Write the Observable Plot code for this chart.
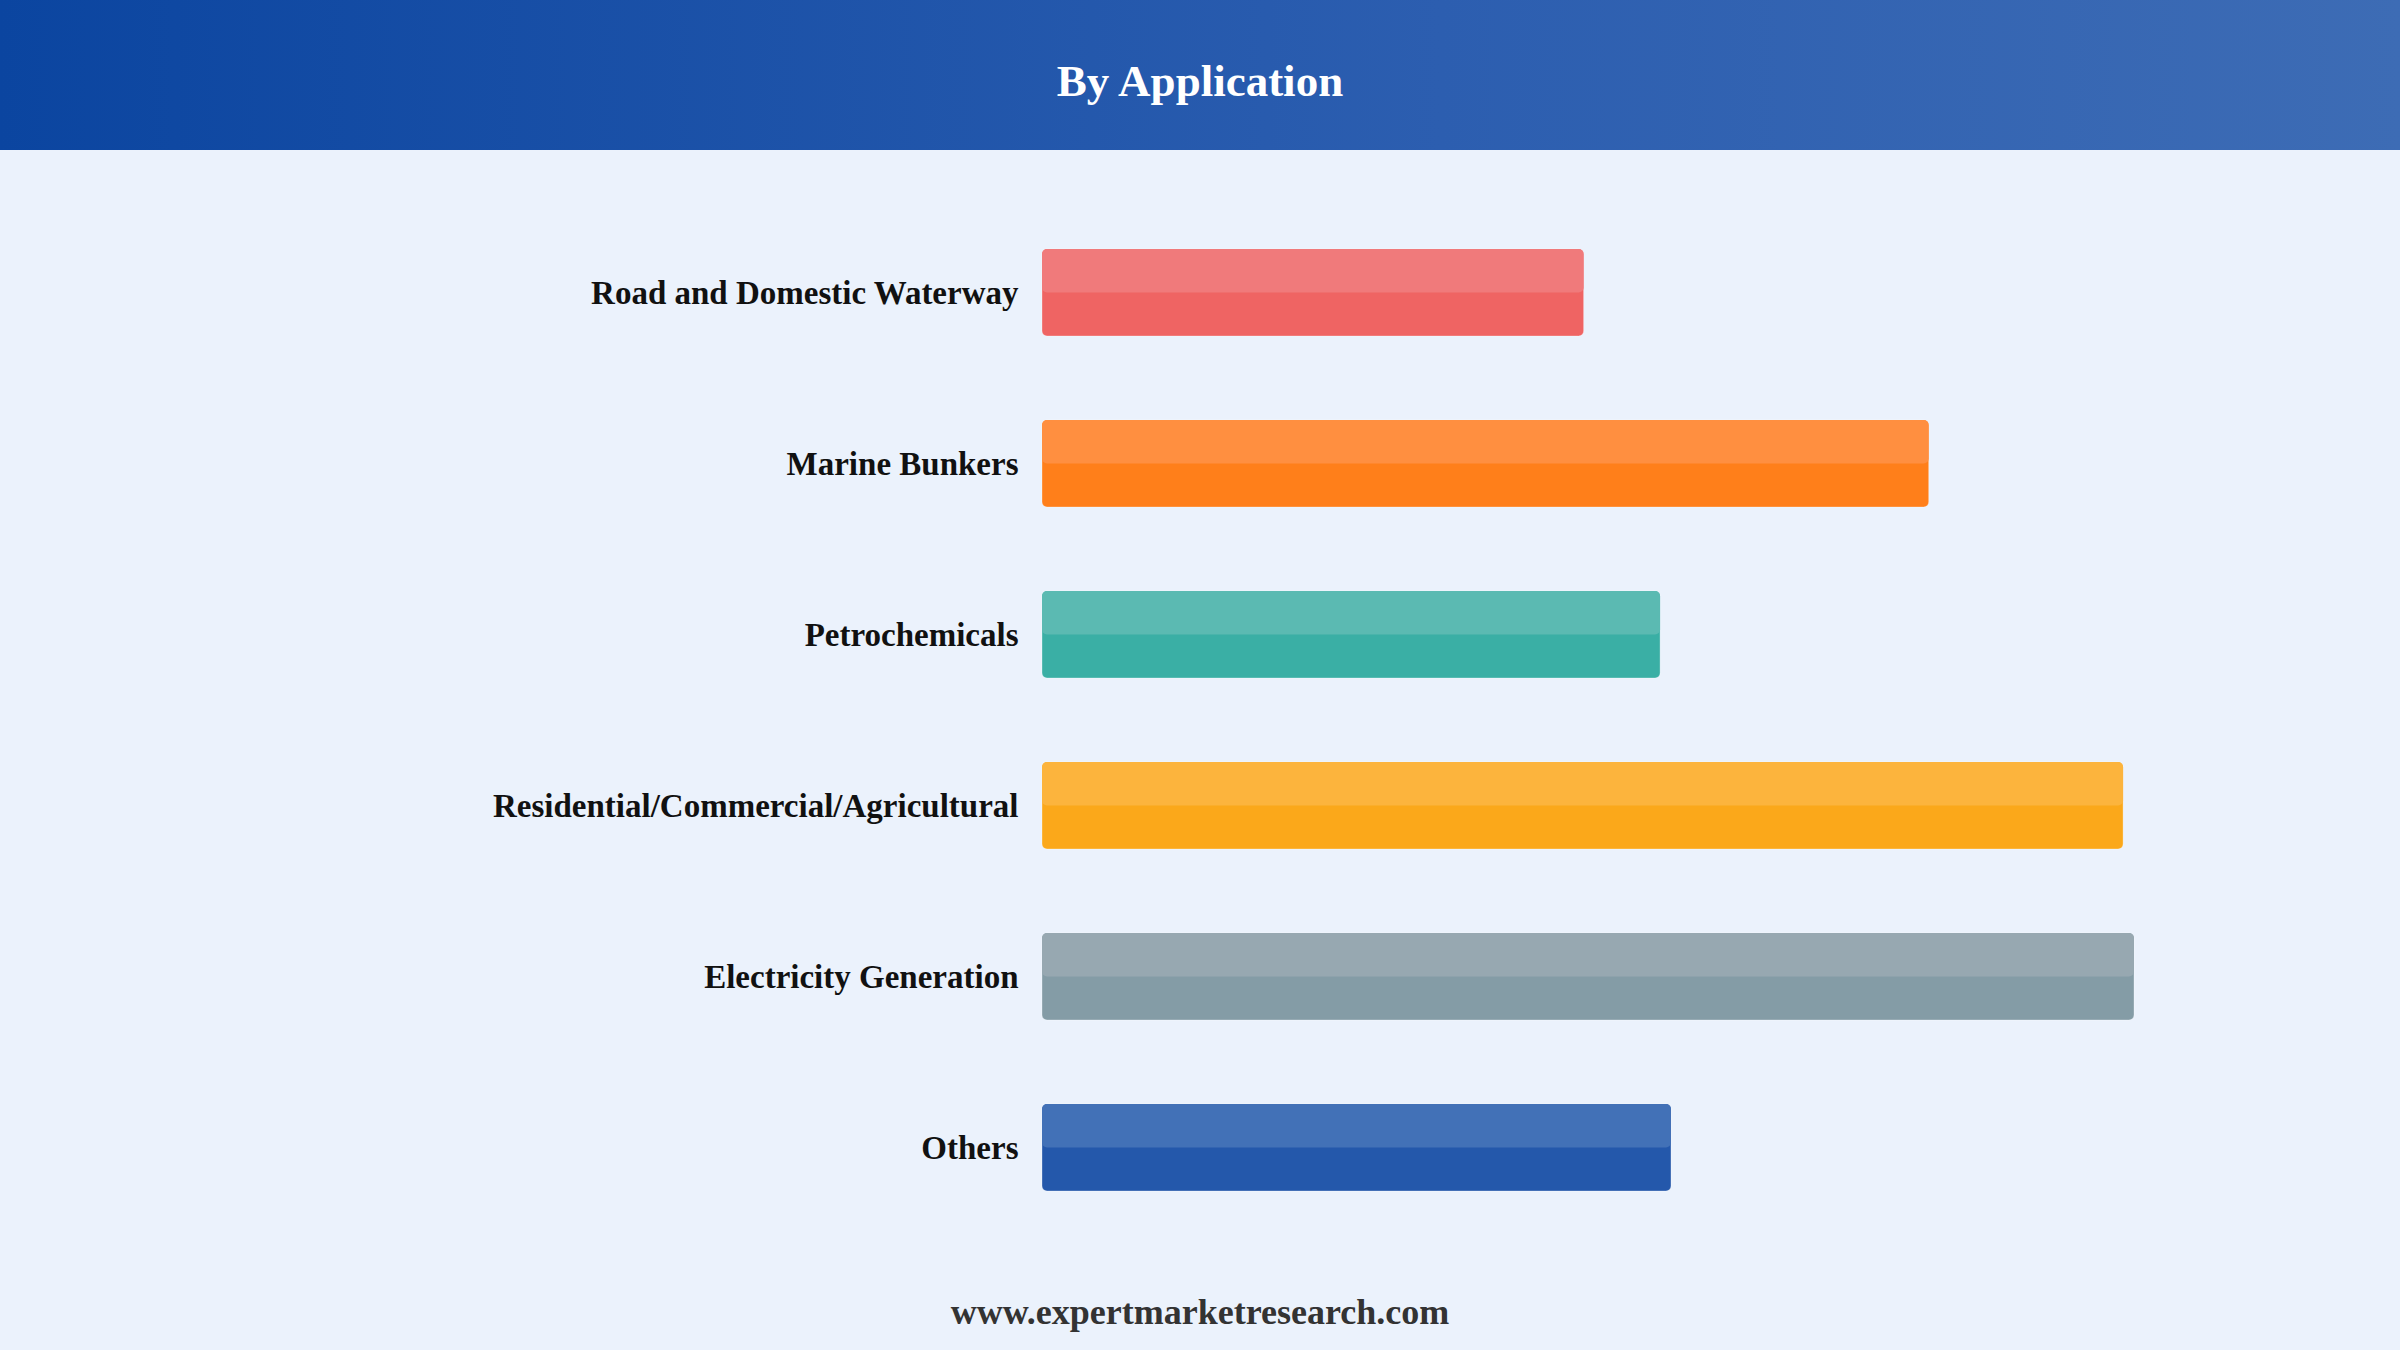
<!DOCTYPE html>
<html>
<head>
<meta charset="utf-8">
<script src="https://cdn.jsdelivr.net/npm/d3@7"></script>
<script src="https://cdn.jsdelivr.net/npm/@observablehq/plot@0.6"></script>
<style>
  html, body { margin: 0; padding: 0; background: #EBF2FC; }
  body { width: 2400px; height: 1350px; overflow: hidden; }
  #header {
    height: 150px; box-sizing: border-box; padding-top: 12px; line-height: 138px;
    background: linear-gradient(to right, #0B45A0 0%, #2C5EB0 60%, #3D6CB5 100%);
    color: #ffffff; text-align: center;
    font-family: "Liberation Serif", "Times New Roman", serif; font-weight: bold; font-size: 45px;
  }
  #chart { height: 1130px; }
  #chart svg { display: block; }
  #footer {
    height: 70px; line-height: 64px; text-align: center; color: #333333;
    font-family: "Liberation Serif", "Times New Roman", serif; font-weight: bold; font-size: 36px;
  }
</style>
</head>
<body>
<div id="header">By Application</div>
<div id="chart"></div>
<div id="footer">www.expertmarketresearch.com</div>
<script>
const categories = [
  "Road and Domestic Waterway",
  "Marine Bunkers",
  "Petrochemicals",
  "Residential/Commercial/Agricultural",
  "Electricity Generation",
  "Others"
];
const values = [49.6, 81.2, 56.6, 99.0, 100, 57.6];
const baseColors = ["#EF6463", "#FF7F1A", "#3AAFA5", "#FBA81A", "#849CA6", "#2458AB"];
const topColors  = ["#F07A7B", "#FF8F40", "#5BBAB2", "#FCB43D", "#97A8B1", "#4271B7"];

const data = categories.map((c, i) => ({
  category: c, value: values[i], base: baseColors[i], top: topColors[i]
}));

const H = 1130;
const plot = Plot.plot({
  width: 2400,
  height: H,
  marginLeft: 1042,
  marginRight: 266,
  marginTop: 13,
  marginBottom: 4,
  x: { domain: [0, 100], axis: null },
  y: { domain: categories, padding: 0.493, label: null },
  style: {
    background: "transparent",
    fontFamily: "'Liberation Serif', 'Times New Roman', serif",
    fontSize: "33px",
    fontWeight: "bold",
    color: "#111111"
  },
  marks: [
    Plot.barX(data, {
      y: "category", x: "value", fill: d => d.base,
      rx: 5, stroke: "#ffffff", strokeOpacity: 0.3, strokeWidth: 1
    }),
    Plot.barX(data, {
      y: "category", x: "value", fill: d => d.top,
      rx: 5, insetBottom: 43.5
    }),
    Plot.axisY({ tickSize: 0, tickPadding: 24, label: null, fontSize: 33 })
  ]
});
document.getElementById("chart").appendChild(plot);
</script>
</body>
</html>
